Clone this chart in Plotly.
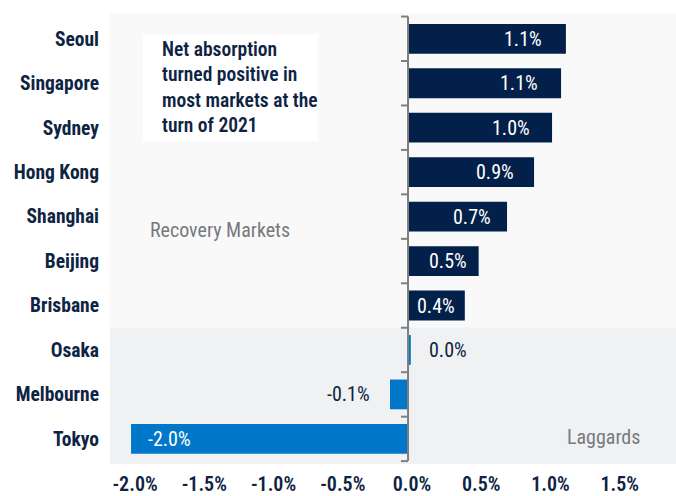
import plotly.graph_objects as go

# Net absorption by market (% of stock)
markets = ["Seoul", "Singapore", "Sydney", "Hong Kong", "Shanghai",
           "Beijing", "Brisbane", "Osaka", "Melbourne", "Tokyo"]
net_absorption = [1.14, 1.105, 1.04, 0.91, 0.715, 0.51, 0.41, 0.02, -0.13, -2.0]
groups = ["Recovery"] * 7 + ["Laggards"] * 3

tick_values = [-2.0, -1.5, -1.0, -0.5, 0.0, 0.5, 1.0, 1.5]
tick_labels = ["-2.0%", "-1.5%", "-1.0%", "-0.5%", "0.0%", "0.5%", "1.0%", "1.5%"]

FONT = "Roboto Condensed, Liberation Sans Narrow, Arial Narrow, sans-serif"
NAVY = "#03204a"
BLUE = "#0077c8"
TEXT = "#0e2442"
GREY_TEXT = "#777a7e"
AXIS_GREY = "#7f7f7f"

colors = [NAVY if g == "Recovery" else BLUE for g in groups]

fig = go.Figure()
fig.add_trace(go.Bar(
    x=net_absorption,
    y=markets,
    orientation="h",
    marker=dict(color=colors, line=dict(width=0)),
    hoverinfo="skip",
))

n = len(markets)
n_recovery = groups.count("Recovery")

shapes = []
# shaded band behind the laggard markets
shapes.append(dict(type="rect", xref="paper", yref="y", x0=0, x1=1,
                   y0=n_recovery - 0.5, y1=n + 1, fillcolor="#f0f1f3",
                   line=dict(width=0), layer="below"))
# vertical baseline at zero with category-boundary ticks
shapes.append(dict(type="line", xref="x", yref="y", x0=0, x1=0,
                   y0=-0.5, y1=n - 0.5, line=dict(color=AXIS_GREY, width=2)))
for k in range(n + 1):
    shapes.append(dict(type="line", xref="x", yref="y", xsizemode="pixel",
                       xanchor=0, x0=-7, x1=0, y0=k - 0.5, y1=k - 0.5,
                       line=dict(color=AXIS_GREY, width=2)))
# white callout box
shapes.append(dict(type="rect", xref="x", yref="y", x0=-1.913, x1=-0.65,
                   y0=-0.11, y1=2.3, fillcolor="white", line=dict(width=0)))

annotations = []
for m, v, g in zip(markets, net_absorption, groups):
    label = f"{v:.1f}%"
    if g == "Recovery":
        annotations.append(dict(x=0.86 * v, y=m, text=label, xanchor="right",
                                showarrow=False,
                                font=dict(family=FONT, size=20, color="white")))
    elif v <= -1:
        annotations.append(dict(x=v, y=m, text=label, xanchor="left", xshift=15,
                                showarrow=False,
                                font=dict(family=FONT, size=20, color="white")))
    elif v < 0:
        annotations.append(dict(x=v, y=m, text=label, xanchor="right", xshift=-18,
                                showarrow=False,
                                font=dict(family=FONT, size=20, color=TEXT)))
    else:
        annotations.append(dict(x=v, y=m, text=label, xanchor="left", xshift=16,
                                showarrow=False,
                                font=dict(family=FONT, size=20, color=TEXT)))

annotations.append(dict(
    x=-1.79, y=1.09, xref="x", yref="y", xanchor="left", yanchor="middle",
    align="left", showarrow=False,
    text="Net absorption<br>turned positive in<br>most markets at the<br>turn of 2021",
    font=dict(family=FONT, size=19.5, color=TEXT, weight=600),
))
annotations.append(dict(x=-1.877, y=4.29, xanchor="left", yanchor="middle",
                        showarrow=False, text="Recovery Markets",
                        font=dict(family=FONT, size=20, color=GREY_TEXT)))
annotations.append(dict(x=1.69, y=8.95, xanchor="right", yanchor="middle",
                        showarrow=False, text="Laggards",
                        font=dict(family=FONT, size=20, color=GREY_TEXT)))

fig.update_layout(
    width=676, height=496,
    margin=dict(l=110, r=0, t=13, b=29),
    paper_bgcolor="white",
    plot_bgcolor="#f9f9f9",
    showlegend=False,
    bargap=0.33,
    shapes=shapes,
    annotations=annotations,
    font=dict(family=FONT, color=TEXT),
)
fig.update_xaxes(
    range=[-2.152, 1.935],
    tickvals=tick_values,
    ticktext=tick_labels,
    showgrid=False, zeroline=False, showline=False,
    ticks="", ticklabelstandoff=6, ticklabelshift=4,
    tickfont=dict(family=FONT, size=20, color=TEXT, weight=600),
)
fig.update_yaxes(
    categoryorder="array", categoryarray=markets,
    range=[n - 1 + 0.565, -0.58],
    showgrid=False, zeroline=False, showline=False,
    ticks="", ticklabelstandoff=10,
    tickfont=dict(family=FONT, size=19.5, color=TEXT, weight="bold"),
)

fig.write_html("out.html")
